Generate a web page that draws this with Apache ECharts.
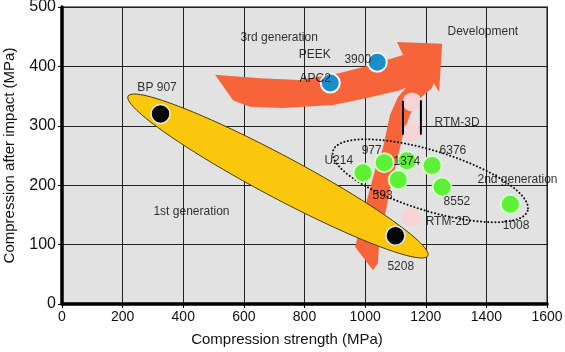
<!DOCTYPE html>
<html>
<head>
<meta charset="utf-8">
<script src="https://cdn.jsdelivr.net/npm/echarts@6/dist/echarts.min.js"></script>
<style>
  html, body { margin: 0; padding: 0; background: #fff; }
  #chart { width: 565px; height: 352px; }
</style>
</head>
<body>
<div id="chart"></div>
<script>
  // points: [compression strength, compression after impact]
  const firstGen = [[325, 320], [1100, 115]];
  const thermoplastics = [[885, 372], [1040, 407]];
  const secondGen = [[993, 221], [1063, 238], [1138, 241], [1109, 209], [1221, 233], [1254, 197], [1479, 168]];
  const rtmPoints = [[1155, 340], [1155, 290], [1151, 146]];
  // RTM-3D range bars: [x, yTop, yBottom]
  const rtmBars = [[1125, 342, 285], [1184, 343, 285]];

  // text labels: [x, y, text] (x = left edge of text)
  const labels = [
    [587, 449, '3rd generation'],
    [779, 419, 'PEEK'],
    [782, 380, 'APC2'],
    [930, 411, '3900'],
    [1270, 458, 'Development'],
    [1227, 305, 'RTM-3D'],
    [864, 242, 'U214'],
    [987, 258, '977'],
    [1092, 239, '1374'],
    [1244, 258, '6376'],
    [1023, 183, '593'],
    [1257, 172, '8552'],
    [1369, 210, '2nd generation'],
    [1452, 131, '1008'],
    [1198, 138, 'RTM-2D'],
    [1072, 62, '5208'],
    [300, 155, '1st generation'],
    [247, 364, 'BP 907']
  ];

  // group outlines: the two tips of each ellipse
  const firstGenBand = [[218, 350], [1207, 81]];
  const secondGenLoop = [[894, 258], [1536, 157]];

  // arrows (outline vertices in data units)
  const devArrow = [[505, 386], [653, 380], [785, 377], [917, 389], [1016, 402], [1125, 419], [1105, 441],
    [1254, 438], [1244, 357], [1214, 382], [1115, 360], [1006, 347], [894, 335], [729, 330], [620, 332], [564, 343]];
  const riseArrow = [[967, 96], [983, 128], [1006, 175], [1033, 226], [1059, 263], [1082, 318], [1108, 348],
    [1148, 372], [1198, 391], [1247, 407], [1221, 364], [1174, 343], [1148, 318], [1125, 285], [1105, 242],
    [1082, 192], [1062, 141], [1046, 99], [1042, 69], [1026, 57]];

  const FONT = 'Liberation Sans, Arial, sans-serif';

  function polygonItem(pts, style) {
    return function (params, api) {
      return { type: 'polygon', shape: { points: pts.map(p => api.coord(p)) }, style: style };
    };
  }

  function ellipseItem(tips, ry, style) {
    return function (params, api) {
      const a = api.coord(tips[0]);
      const b = api.coord(tips[1]);
      const cx = (a[0] + b[0]) / 2, cy = (a[1] + b[1]) / 2;
      const rx = Math.hypot(b[0] - a[0], b[1] - a[1]) / 2;
      const ang = Math.atan2(b[1] - a[1], b[0] - a[0]);
      const pts = [];
      for (let i = 0; i < 90; i++) {
        const t = i / 90 * Math.PI * 2;
        const ex = rx * Math.cos(t), ey = ry * Math.sin(t);
        pts.push([cx + ex * Math.cos(ang) - ey * Math.sin(ang), cy + ex * Math.sin(ang) + ey * Math.cos(ang)]);
      }
      return { type: 'polygon', shape: { points: pts }, style: style };
    };
  }

  const chart = echarts.init(document.getElementById('chart'));
  chart.setOption({
    animation: false,
    textStyle: { fontFamily: FONT },
    grid: {
      left: 62, right: 18, top: 7, bottom: 48,
      outerBoundsMode: 'none', containLabel: false,
      show: true, backgroundColor: '#e2e2e2', borderColor: '#555', borderWidth: 1.5
    },
    xAxis: {
      type: 'value', min: 0, max: 1600, interval: 200,
      name: 'Compression strength (MPa)', nameLocation: 'middle', nameGap: 28,
      nameTextStyle: { fontSize: 15, color: '#111', padding: [0, 35, 0, 0] },
      axisLine: { lineStyle: { color: '#000', width: 3.5 } },
      axisTick: { show: true, length: 4, lineStyle: { color: '#000' } },
      axisLabel: { fontSize: 14, color: '#111', margin: 6, formatter: v => String(v) },
      splitLine: { lineStyle: { color: '#222', width: 1 } }
    },
    yAxis: {
      type: 'value', min: 0, max: 500, interval: 100,
      name: 'Compression after impact (MPa)', nameLocation: 'middle', nameGap: 45,
      nameTextStyle: { fontSize: 15, color: '#111' },
      axisLine: { show: true, lineStyle: { color: '#000', width: 3.5 } },
      axisTick: { show: true, length: 4, lineStyle: { color: '#000' } },
      axisLabel: { fontSize: 16, color: '#111', margin: 6, formatter: v => String(v) },
      splitLine: { lineStyle: { color: '#222', width: 1 } }
    },
    series: [
      {
        type: 'custom', silent: true, data: [[800, 250]], z: 2,
        renderItem: polygonItem(devArrow, { fill: '#f8643a' })
      },
      {
        type: 'custom', silent: true, data: [[800, 250]], z: 2,
        renderItem: polygonItem(riseArrow, { fill: '#f8643a' })
      },
      {
        type: 'custom', silent: true, data: [[800, 250]], z: 3,
        renderItem: ellipseItem(firstGenBand, 21, { fill: '#fbc70d', stroke: '#4a3c00', lineWidth: 1 })
      },
      {
        type: 'custom', silent: true, data: [[800, 250]], z: 4,
        renderItem: ellipseItem(secondGenLoop, 30, {
          fill: 'transparent', stroke: '#111', lineWidth: 2, lineDash: [0.1, 3.5], lineCap: 'round'
        })
      },
      {
        type: 'custom', silent: true, z: 6,
        data: rtmBars,
        renderItem: function (params, api) {
          const top = api.coord([api.value(0), api.value(1)]);
          const bot = api.coord([api.value(0), api.value(2)]);
          return {
            type: 'line',
            shape: { x1: top[0], y1: top[1], x2: bot[0], y2: bot[1] },
            style: { stroke: '#000', lineWidth: 2 }
          };
        }
      },
      {
        type: 'scatter', silent: true, z: 5, symbolSize: 19, data: rtmPoints,
        itemStyle: { color: '#f8d3d6', opacity: 1 }
      },
      {
        type: 'scatter', silent: true, z: 5, symbolSize: 19, data: secondGen,
        itemStyle: { color: '#5ef035', borderColor: 'rgba(215,255,205,0.9)', borderWidth: 2, opacity: 1 }
      },
      {
        type: 'scatter', silent: true, z: 5, symbolSize: 19, data: thermoplastics,
        itemStyle: { color: '#1b8ec9', borderColor: '#f2f6fa', borderWidth: 2, opacity: 1 }
      },
      {
        type: 'scatter', silent: true, z: 5, symbolSize: 19, data: firstGen,
        itemStyle: { color: '#050505', borderColor: '#dfe8f5', borderWidth: 1.5, opacity: 1 }
      },
      {
        type: 'scatter', silent: true, z: 7, symbolSize: 1,
        data: labels.map(l => ({ value: [l[0], l[1]], name: l[2] })),
        itemStyle: { color: 'transparent' },
        label: {
          show: true, position: 'right', distance: 0, formatter: '{b}',
          fontSize: 12, color: '#000', fontFamily: FONT
        }
      }
    ]
  });
</script>
</body>
</html>
